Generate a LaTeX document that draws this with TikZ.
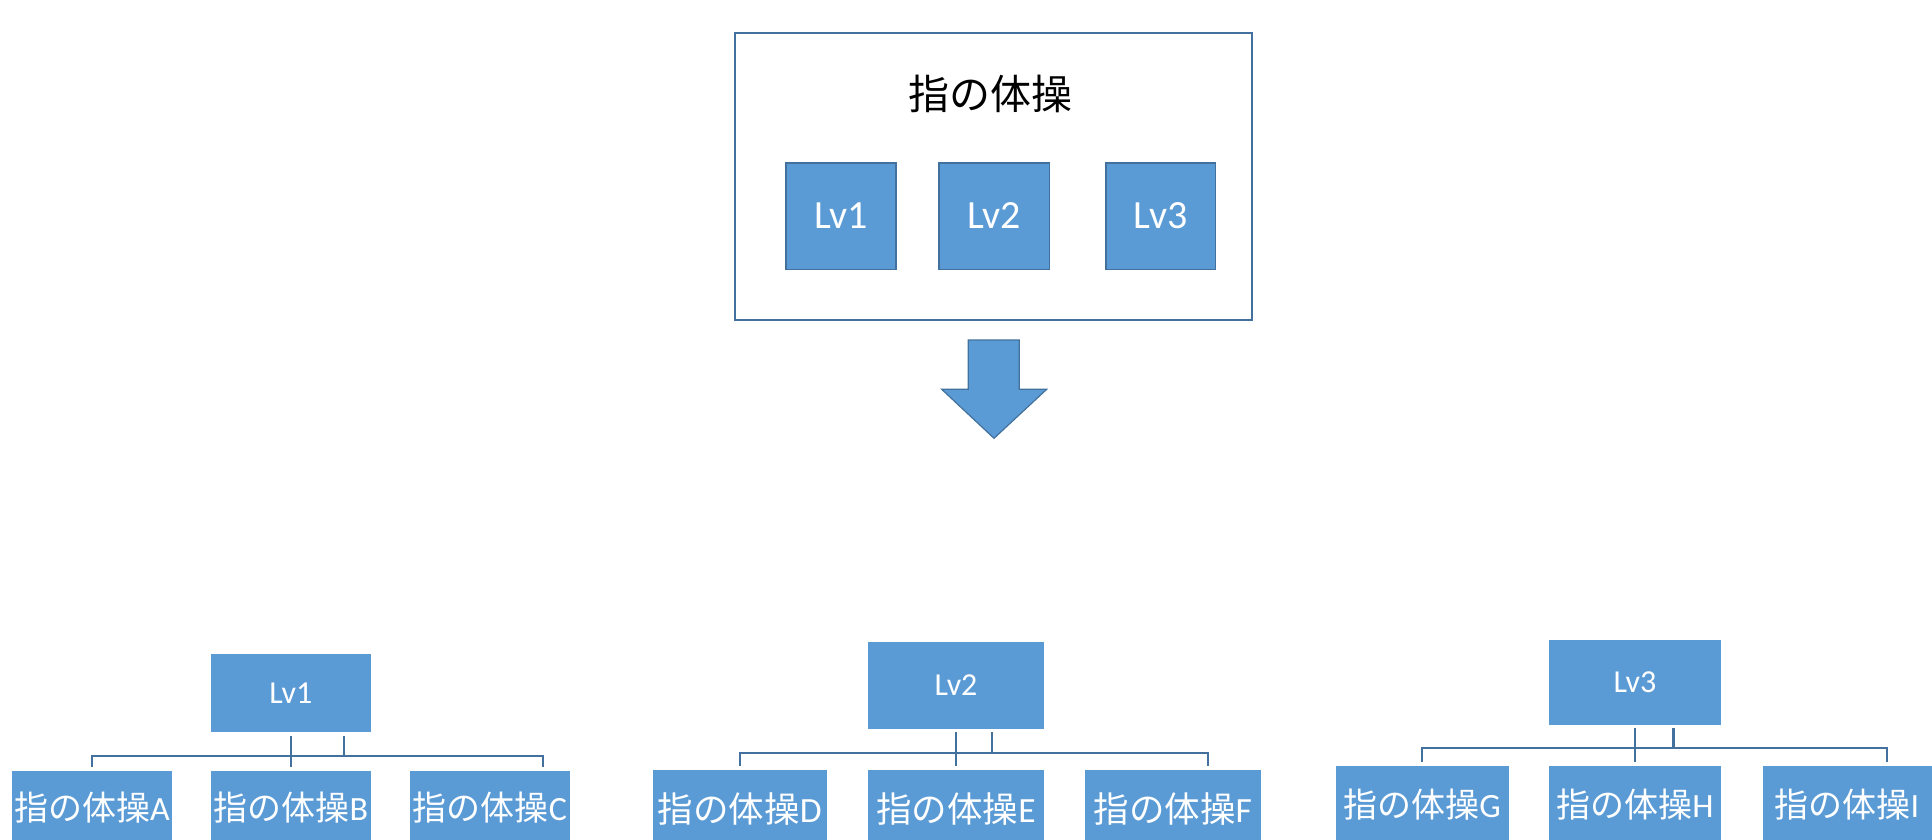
\documentclass[tikz,border=0pt]{standalone}
\usepackage{fontspec}
\setmainfont{Carlito}
\newfontfamily\cjk{Noto Sans CJK JP}
\definecolor{boxblue}{HTML}{5B9BD5}
\definecolor{edgeblue}{HTML}{41719C}
\begin{document}
\begin{tikzpicture}[x=1pt,y=-1pt,
  every node/.style={inner sep=0pt,outer sep=0pt},
  frame/.style={draw=edgeblue,line width=2pt,fill=white,rectangle},
  lvbox/.style={draw=edgeblue,line width=1.6pt,fill=boxblue,text=white,rectangle,font=\fontsize{40}{40}\selectfont},
  parbox/.style={draw=white,line width=0.6pt,fill=boxblue,text=white,rectangle,font=\fontsize{32}{32}\selectfont},
  kidbox/.style={draw=white,line width=0.6pt,fill=boxblue,text=white,rectangle},
  conn/.style={draw=edgeblue,line width=2.3pt},
  bigarrow/.style={draw=edgeblue,line width=1.2pt,fill=boxblue,line join=miter}]
\useasboundingbox (0,0) rectangle (1932,840);
\clip (0,0) rectangle (1932,840);
% top frame
\node[frame,minimum width=517.6pt,minimum height=286.7pt] (frame) at (993.5,176.7) {};
\node[font=\cjk\fontsize{41}{41}\selectfont] (title) at (990,94) {指の体操};
\node[lvbox,minimum width=110.3pt,minimum height=106.6pt] (t1) at (840.85,216) {Lv1};
\node[lvbox,minimum width=110.6pt,minimum height=106.6pt] (t2) at (994,216) {Lv2};
\node[lvbox,minimum width=109.3pt,minimum height=106.6pt] (t3) at (1160.65,216) {Lv3};
% arrow
\draw[bigarrow] (968.3,340) -- (1019.3,340) -- (1019.3,389.3) -- (1046.7,389.3) -- (994,438.3) -- (941.7,389.3) -- (968.3,389.3) -- cycle;
% group 1
\node[parbox,minimum width=161.7pt,minimum height=79pt] (p1) at (290.85,692.8) {Lv1};
\node[kidbox,minimum width=160.6pt,minimum height=75pt,font=\fontsize{34}{34}\selectfont] (a) at (92,807.5) {{\cjk 指の体操}A};
\node[kidbox,minimum width=161.7pt,minimum height=75pt,font=\fontsize{34}{34}\selectfont] (b) at (290.85,807.5) {{\cjk 指の体操}B};
\node[kidbox,minimum width=161.4pt,minimum height=75pt,font=\fontsize{34}{34}\selectfont] (c) at (490,807.5) {{\cjk 指の体操}C};
\draw[conn] ([yshift=3pt]a.north) -- ++(0,-11) -| ([xshift=53pt,yshift=3pt]c.north);
\draw[conn] ([yshift=-3.5pt]p1.south) -- ([yshift=3pt]b.north);
\draw[conn] ([xshift=53pt,yshift=-3.5pt]p1.south) -- ++(0,20.2);
% group 2
\node[parbox,minimum width=176.6pt,minimum height=87.3pt] (p2) at (956,685.35) {Lv2};
\node[kidbox,minimum width=175pt,minimum height=80pt,font=\fontsize{35.5}{35.5}\selectfont] (d) at (739.8,809) {{\cjk 指の体操}D};
\node[kidbox,minimum width=176.6pt,minimum height=80pt,font=\fontsize{35.5}{35.5}\selectfont] (e) at (956,809) {{\cjk 指の体操}E};
\node[kidbox,minimum width=177pt,minimum height=80pt,font=\fontsize{35.5}{35.5}\selectfont] (f) at (1172.8,809) {{\cjk 指の体操}F};
\draw[conn] ([yshift=3pt]d.north) -- ++(0,-13.3) -| ([xshift=35pt,yshift=3pt]f.north);
\draw[conn] ([yshift=-3.3pt]p2.south) -- ([yshift=3pt]e.north);
\draw[conn] ([xshift=35.7pt,yshift=-3.3pt]p2.south) -- ++(0,20.4);
% group 3
\node[parbox,minimum width=172.5pt,minimum height=85.7pt] (p3) at (1634.95,682.15) {Lv3};
\node[kidbox,minimum width=174pt,minimum height=80pt,font=\fontsize{34}{34}\selectfont] (g) at (1422,805) {{\cjk 指の体操}G};
\node[kidbox,minimum width=172.5pt,minimum height=80pt,font=\fontsize{34}{34}\selectfont] (h) at (1634.95,805) {{\cjk 指の体操}H};
\node[kidbox,minimum width=170pt,minimum height=80pt,font=\fontsize{34}{34}\selectfont] (i) at (1847,805) {{\cjk 指の体操}I};
\draw[conn] ([yshift=3.3pt]g.north) -- ++(0,-13.4) -| ([xshift=40pt,yshift=3.3pt]i.north);
\draw[conn] ([yshift=-2.7pt]p3.south) -- ([yshift=3.3pt]h.north);
\draw[conn] ([xshift=38.6pt,yshift=-2.7pt]p3.south) -- ++(0,20.6);
\end{tikzpicture}
\end{document}
